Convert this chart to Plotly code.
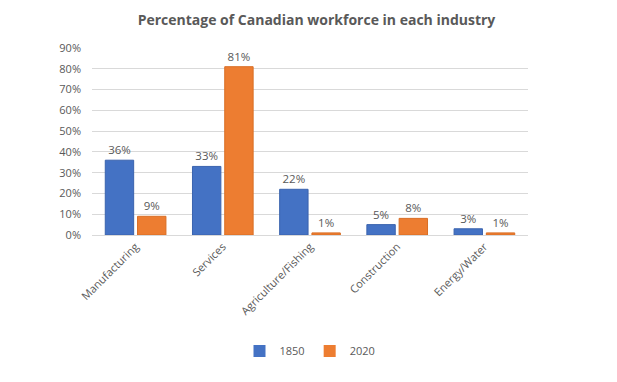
import plotly.graph_objects as go

categories = ["Manufacturing", "Services", "Agriculture/Fishing", "Construction", "Energy/Water"]
values_1850 = [36, 33, 22, 5, 3]
values_2020 = [9, 81, 1, 8, 1]
series_names = ["1850", "2020"]
tick_vals = [0, 10, 20, 30, 40, 50, 60, 70, 80, 90]
tick_text = [f"{v}%" for v in tick_vals]

font_family = "Open Sans, Liberation Sans, Arial, sans-serif"
gray = "#595959"
colors = ["#4472C4", "#ED7D31"]
edge = ["#3A63AE", "#D96E25"]

fig = go.Figure()
for name, vals, c, e in zip(series_names, [values_1850, values_2020], colors, edge):
    fig.add_trace(go.Bar(
        name=name, x=categories, y=vals,
        marker=dict(color=c, line=dict(color=e, width=1)),
        text=[f"{v}%" for v in vals], textposition="outside",
        textfont=dict(size=11.5, color=gray, family=font_family),
        cliponaxis=False, showlegend=False,
    ))
for name, c in zip(series_names, colors):
    fig.add_trace(go.Scatter(
        name=name, x=[None], y=[None], mode="markers",
        marker=dict(symbol="square", size=7, color=c), showlegend=True,
    ))

# page body has an 8px default margin; margins compensate for that offset
fig.update_layout(
    width=617, height=382,
    paper_bgcolor="white", plot_bgcolor="white",
    margin=dict(l=84, r=97, t=40, b=155),
    barmode="group", bargap=0.26, bargroupgap=0.12,
    title=dict(text="<b>Percentage of Canadian workforce in each industry</b>",
               x=0.5, xanchor="center", y=0.968, yanchor="middle",
               font=dict(size=14, color=gray, family=font_family)),
    font=dict(family=font_family, color=gray, size=11),
    legend=dict(orientation="h", x=0.5, xanchor="center", y=-0.62, yanchor="middle",
                font=dict(size=11, color=gray), itemwidth=30, traceorder="normal",
                itemsizing="constant"),
    showlegend=True,
)
fig.update_yaxes(range=[0, 90], tickvals=tick_vals, ticktext=tick_text,
                 showgrid=True, gridcolor="#D9D9D9", gridwidth=1,
                 zeroline=False, showline=False, automargin=False,
                 ticklabelstandoff=10,
                 tickfont=dict(size=11, color=gray), ticks="", ticklen=0)
fig.update_xaxes(tickangle=-45, showline=True, linecolor="#D9D9D9", linewidth=1,
                 automargin=False, tickfont=dict(size=11, color=gray), ticks="")

fig.write_html("out.html")
